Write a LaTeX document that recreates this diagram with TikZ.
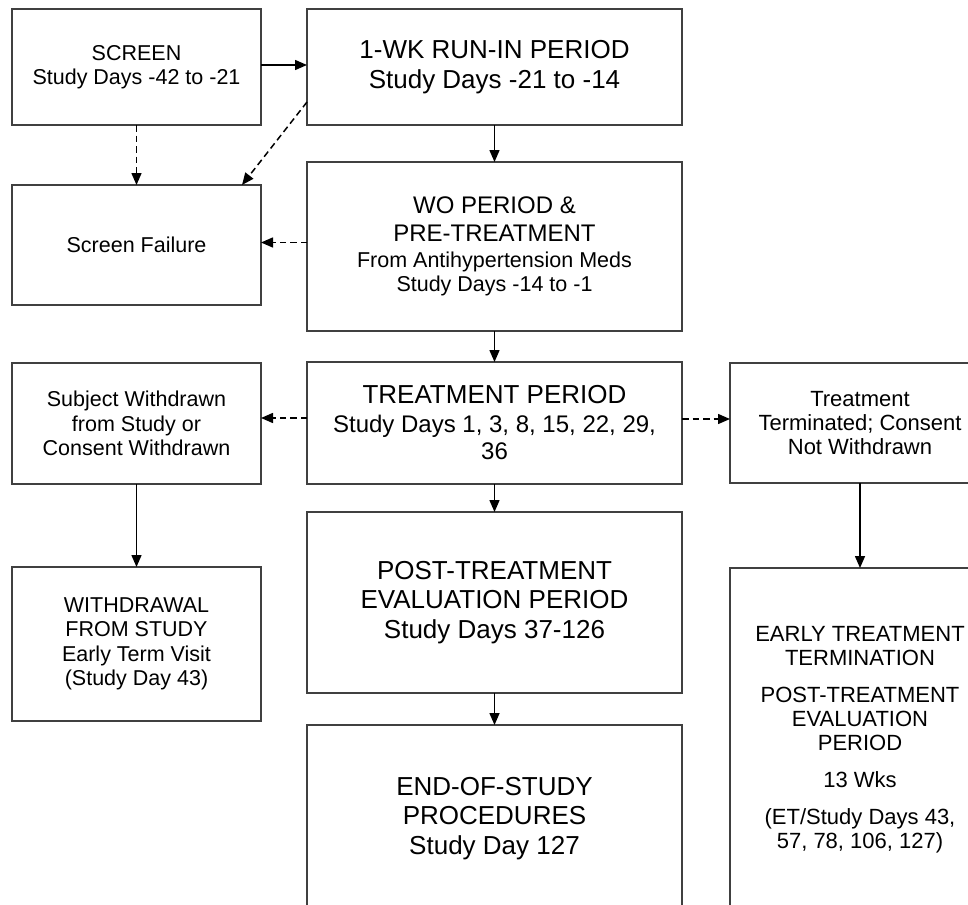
\documentclass[tikz,border=0pt]{standalone}
\usepackage{fontspec}
\setmainfont{Liberation Sans}
\usetikzlibrary{arrows.meta,calc}
\newcommand\smtxt{\fontsize{21.5bp}{24.5bp}\selectfont}
\newcommand\rttxt{\fontsize{22bp}{24bp}\selectfont}
\newcommand\midtxt{\fontsize{24bp}{27bp}\selectfont}
\newcommand\bigtxt{\fontsize{26bp}{29.5bp}\selectfont}
\begin{document}
\begin{tikzpicture}[x=1bp,y=-1bp,
  box/.style={draw=black!75, line width=1.5bp, rectangle, inner sep=0pt, outer sep=0pt, align=center, text=black},
  arr/.style={draw=black, line width=1.5bp, -{Triangle[length=12bp,width=10bp]}},
  darr/.style={arr, dash pattern=on 6.5bp off 4bp}]
\useasboundingbox (0,0) rectangle (968,905);
\begin{scope}
\clip (0,0) rectangle (968,905);
% left column
\node[box, font=\smtxt, minimum width=249bp, minimum height=116bp] (screen) at (136.5,67)
  {SCREEN\\Study Days -42 to -21};
\node[box, font=\smtxt, minimum width=249bp, minimum height=120bp] (fail) at (136.5,245)
  {Screen Failure};
\node[box, font=\smtxt, minimum width=249bp, minimum height=121bp] (subj) at (136.5,423.5)
  {Subject Withdrawn\\from Study or\\Consent Withdrawn};
\node[box, font=\smtxt, minimum width=249bp, minimum height=154bp] (withdr) at (136.5,644)
  {WITHDRAWAL\\FROM STUDY\\Early Term Visit\\(Study Day 43)};
% middle column
\node[box, font=\bigtxt, minimum width=375bp, minimum height=116bp] (runin) at (494.5,67)
  {1-WK RUN-IN PERIOD\\Study Days -21 to -14};
\node[box, font=\smtxt, minimum width=375bp, minimum height=169bp] (wo) at (494.5,246.5)
  {\midtxt WO PERIOD \&\\[3.5bp] \midtxt PRE-TREATMENT\\[1.5bp] From Antihypertension Meds\\Study Days -14 to -1};
\node[box, font=\midtxt, minimum width=375bp, minimum height=122bp] (treat) at (494.5,423)
  {\bigtxt TREATMENT PERIOD\\[2bp] Study Days 1, 3, 8, 15, 22, 29,\\36};
\node[box, font=\bigtxt, minimum width=375bp, minimum height=181bp] (post) at (494.5,602.5)
  {POST-TREATMENT\\EVALUATION PERIOD\\Study Days 37-126};
\node[box, font=\bigtxt, minimum width=375bp, minimum height=187bp] (eos) at (494.5,818.5)
  {END-OF-STUDY\\PROCEDURES\\Study Day 127};
% right column
\node[box, font=\rttxt, minimum width=260bp, minimum height=120bp] (tt) at (860,423)
  {Treatment\\Terminated; Consent\\Not Withdrawn};
\node[box, font=\rttxt, minimum width=260bp, minimum height=344bp] (early) at (860,740)
  {EARLY TREATMENT\\TERMINATION\\[13bp]
   POST-TREATMENT\\EVALUATION\\PERIOD\\[13bp]
   13 Wks\\[13bp]
   (ET/Study Days 43,\\57, 78, 106, 127)};
\end{scope}
% connectors
\coordinate (c1) at ([yshift=2bp]screen.east);
\draw[arr] (c1) -- (c1 -| runin.west);
\draw[darr] (screen.south) -- (fail.north);
\coordinate (c2) at ($(runin.south west)+(0,-23)$);
\coordinate (c3) at ($(fail.north west)+(230,0)$);
\draw[darr] (c2) -- (c3);
\draw[arr] (runin.south) -- (wo.north);
\coordinate (c4) at ([yshift=4bp]wo.west);
\draw[darr] (c4) -- (c4 -| fail.east);
\draw[arr] (wo.south) -- (treat.north);
\coordinate (c5) at ([yshift=5bp]treat.west);
\draw[darr] (c5) -- (c5 -| subj.east);
\coordinate (c6) at ([yshift=4bp]treat.east);
\draw[darr] (c6) -- (c6 -| tt.west);
\draw[arr] (treat.south) -- (post.north);
\draw[arr] (post.south) -- (eos.north);
\draw[arr] (subj.south) -- (withdr.north);
\draw[arr] (tt.south) -- (early.north);
\end{tikzpicture}
\end{document}
